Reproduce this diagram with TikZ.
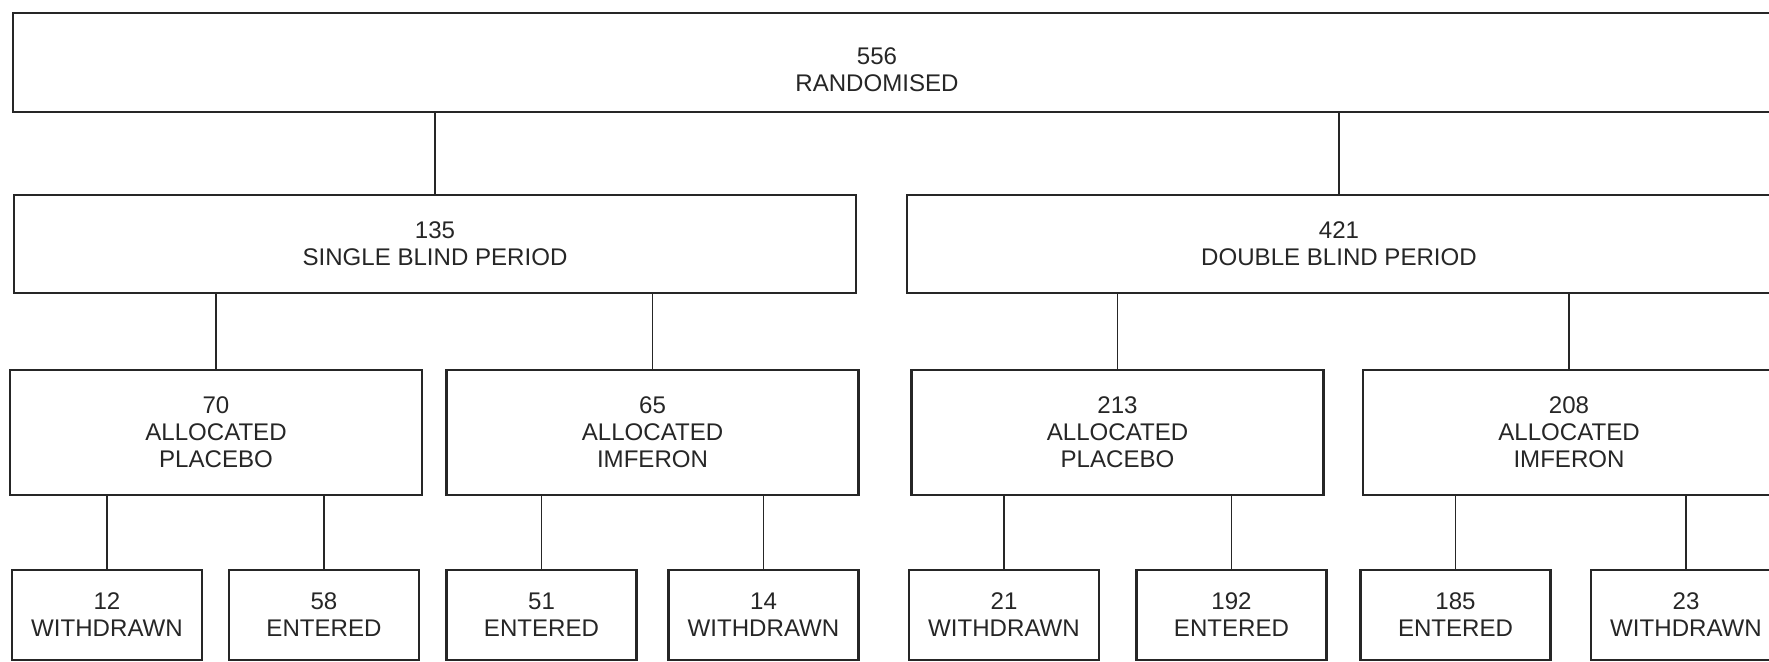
\documentclass[tikz,border=0pt]{standalone}
\usepackage{fontspec}
\setmainfont{Liberation Sans}

\begin{document}
\begin{tikzpicture}[
    x=0.2mm, y=-0.2mm,
    box/.style = {
      rectangle, draw=black!85, line width=1.4pt,
      align=center, inner sep=0pt, text=black!85, text depth=-1.8mm,
      font=\fontsize{13.7}{15.4}\selectfont
    },
    root/.style    = {box, minimum width=352.4mm, minimum height=19.8mm, text depth=-2.5mm},
    period/.style  = {box, minimum height=19.6mm},
    arm/.style     = {box, minimum width=82.4mm, minimum height=25mm},
    outcome/.style = {box, minimum width=38mm, minimum height=18mm},
    link/.style    = {draw=black!85, line width=1.1pt}
  ]

  \useasboundingbox (0,0) rectangle (1769,662);
  \clip (0,0) rectangle (1769,662);

  % Row 1 -- randomised (text sits left of the box middle)
  \node[root] at (894, 62.5) (rand)
    {\begin{tabular}{@{}c@{}}556\\RANDOMISED\end{tabular}\kern6.8mm};

  % Row 2 -- periods
  \node[period, minimum width=168.4mm] at (435, 244)  (single) {135\\SINGLE BLIND PERIOD};
  \node[period, minimum width=172.8mm] at (1339, 244) (double) {421\\DOUBLE BLIND PERIOD};

  % Row 3 -- allocation
  \node[arm] at (216, 432.5)    (sbplac) {70\\ALLOCATED\\PLACEBO};
  \node[arm] at (652.5, 432.5)  (sbimf)  {65\\ALLOCATED\\IMFERON};
  \node[arm] at (1117.5, 432.5) (dbplac) {213\\ALLOCATED\\PLACEBO};
  \node[arm] at (1569, 432.5)   (dbimf)  {208\\ALLOCATED\\IMFERON};

  % Row 4 -- outcome
  \node[outcome] at (107, 615)    (sbplacwd) {12\\WITHDRAWN};
  \node[outcome] at (324, 615)    (sbplacen) {58\\ENTERED};
  \node[outcome] at (541.5, 615)  (sbimfen)  {51\\ENTERED};
  \node[outcome] at (763.5, 615)  (sbimfwd)  {14\\WITHDRAWN};
  \node[outcome] at (1004, 615)   (dbplacwd) {21\\WITHDRAWN};
  \node[outcome] at (1231.5, 615) (dbplacen) {192\\ENTERED};
  \node[outcome] at (1455.5, 615) (dbimfen)  {185\\ENTERED};
  \node[outcome] at (1686, 615)   (dbimfwd)  {23\\WITHDRAWN};

  % Connectors
  \draw[link] (single.north) -- (single.north |- rand.south);
  \draw[link] (double.north) -- (double.north |- rand.south);

  \draw[link] (sbplac.north) -- (sbplac.north |- single.south);
  \draw[link] (sbimf.north)  -- (sbimf.north |- single.south);
  \draw[link] (dbplac.north) -- (dbplac.north |- double.south);
  \draw[link] (dbimf.north)  -- (dbimf.north |- double.south);

  \draw[link] (sbplacwd.north) -- (sbplacwd.north |- sbplac.south);
  \draw[link] (sbplacen.north) -- (sbplacen.north |- sbplac.south);
  \draw[link] (sbimfen.north)  -- (sbimfen.north |- sbimf.south);
  \draw[link] (sbimfwd.north)  -- (sbimfwd.north |- sbimf.south);
  \draw[link] (dbplacwd.north) -- (dbplacwd.north |- dbplac.south);
  \draw[link] (dbplacen.north) -- (dbplacen.north |- dbplac.south);
  \draw[link] (dbimfen.north)  -- (dbimfen.north |- dbimf.south);
  \draw[link] (dbimfwd.north)  -- (dbimfwd.north |- dbimf.south);
\end{tikzpicture}
\end{document}
